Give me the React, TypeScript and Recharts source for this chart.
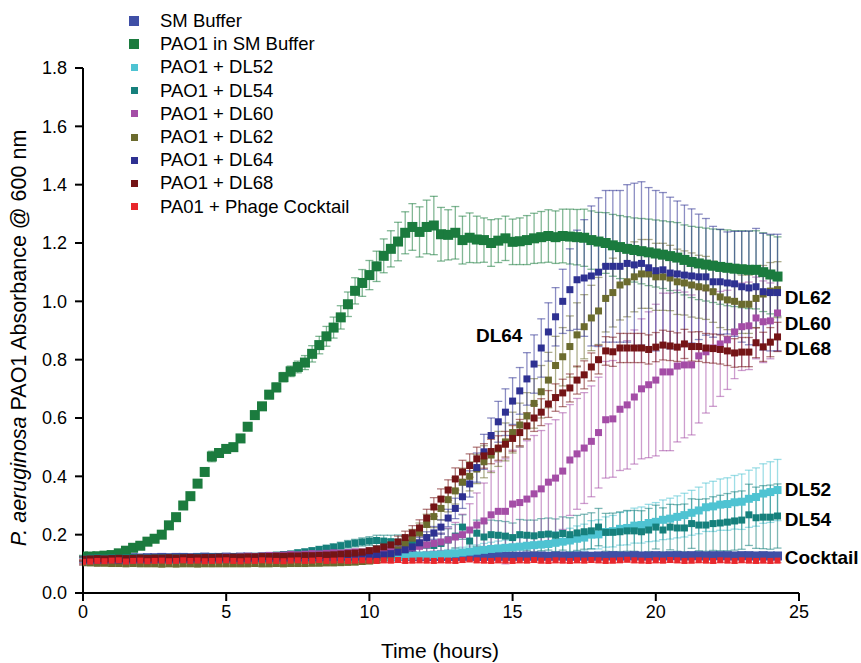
import React from 'react';
import { ScatterChart, Scatter, XAxis, YAxis, ErrorBar, ReferenceDot } from 'recharts';

const FONT = '"Liberation Sans", Arial, Helvetica, sans-serif';

// sampling times (hours), every 15 min
const TIME_H = [
  0, 0.25, 0.5, 0.75, 1, 1.25, 1.5, 1.75, 2, 2.25,
  2.5, 2.75, 3, 3.25, 3.5, 3.75, 4, 4.25, 4.5, 4.75,
  5, 5.25, 5.5, 5.75, 6, 6.25, 6.5, 6.75, 7, 7.25,
  7.5, 7.75, 8, 8.25, 8.5, 8.75, 9, 9.25, 9.5, 9.75,
  10, 10.25, 10.5, 10.75, 11, 11.25, 11.5, 11.75, 12, 12.25,
  12.5, 12.75, 13, 13.25, 13.5, 13.75, 14, 14.25, 14.5, 14.75,
  15, 15.25, 15.5, 15.75, 16, 16.25, 16.5, 16.75, 17, 17.25,
  17.5, 17.75, 18, 18.25, 18.5, 18.75, 19, 19.25, 19.5, 19.75,
  20, 20.25, 20.5, 20.75, 21, 21.25, 21.5, 21.75, 22, 22.25,
  22.5, 22.75, 23, 23.25, 23.5, 23.75, 24, 24.25,
];

const X_TICKS = [0, 5, 10, 15, 20, 25];
const Y_TICKS = [0, 0.2, 0.4, 0.6, 0.8, 1.0, 1.2, 1.4, 1.6, 1.8];

const SM_BUFFER = [
  .118, .119, .12, .12, .121, .12, .121, .121, .12, .121,
  .121, .122, .121, .122, .122, .121, .122, .123, .122, .122,
  .123, .122, .123, .123, .122, .123, .124, .123, .123, .124,
  .123, .124, .124, .123, .124, .124, .125, .124, .124, .125,
  .124, .125, .125, .124, .125, .125, .126, .125, .125, .126,
  .125, .126, .125, .126, .126, .125, .126, .126, .127, .126,
  .126, .126, .127, .126, .127, .126, .127, .127, .126, .127,
  .127, .126, .127, .127, .128, .127, .127, .128, .127, .127,
  .128, .127, .128, .128, .127, .128, .128, .127, .128, .128,
  .128, .127, .128, .128, .127, .128, .127, .127,
];
const SM_BUFFER_ERR = [
  .008, .007, .008, .008, .009, .008, .007, .008, .008, .009,
  .008, .008, .007, .008, .009, .008, .008, .008, .007, .008,
  .008, .009, .008, .008, .008, .007, .008, .009, .008, .008,
  .008, .008, .009, .008, .007, .008, .008, .008, .009, .008,
  .008, .007, .008, .008, .009, .008, .008, .008, .007, .008,
  .009, .008, .008, .008, .007, .008, .009, .008, .008, .008,
  .008, .009, .008, .007, .008, .008, .008, .009, .008, .008,
  .007, .008, .008, .009, .008, .008, .008, .007, .008, .009,
  .008, .008, .008, .007, .008, .009, .008, .008, .008, .008,
  .009, .008, .007, .008, .008, .008, .009, .008,
];

const PAO1 = [
  .125, .125, .126, .128, .13, .136, .145, .155, .162, .176,
  .186, .2, .232, .26, .3, .332, .375, .415, .468, .48,
  .494, .5, .53, .57, .61, .64, .68, .705, .74, .76,
  .775, .79, .82, .85, .88, .91, .945, .99, 1.036, 1.063,
  1.09, 1.12, 1.156, 1.18, 1.205, 1.235, 1.255, 1.238, 1.255, 1.26,
  1.23, 1.228, 1.235, 1.21, 1.218, 1.212, 1.21, 1.2, 1.208, 1.216,
  1.204, 1.206, 1.21, 1.216, 1.22, 1.224, 1.22, 1.224, 1.222, 1.22,
  1.218, 1.21, 1.205, 1.2, 1.192, 1.186, 1.18, 1.176, 1.172, 1.168,
  1.164, 1.16, 1.155, 1.15, 1.142, 1.135, 1.13, 1.126, 1.122, 1.118,
  1.115, 1.112, 1.11, 1.108, 1.108, 1.1, 1.092, 1.085,
];
const PAO1_ERR = [
  .004, .004, .004, .005, .005, .005, .005, .006, .006, .006,
  .006, .007, .007, .008, .008, .009, .01, .01, .018, .012,
  .01, .011, .012, .012, .013, .013, .014, .015, .016, .018,
  .02, .024, .028, .03, .034, .036, .04, .042, .045, .046,
  .05, .052, .058, .062, .066, .072, .08, .086, .092, .1,
  .092, .086, .09, .082, .085, .08, .076, .08, .075, .076,
  .078, .08, .084, .086, .088, .09, .09, .092, .094, .095,
  .098, .1, .1, .104, .106, .108, .11, .11, .112, .114,
  .115, .116, .118, .12, .12, .122, .124, .125, .126, .128,
  .13, .13, .132, .133, .134, .135, .135, .136,
];

const DL52 = [
  .108, .109, .109, .11, .11, .111, .111, .112, .112, .112,
  .113, .113, .113, .114, .114, .114, .115, .115, .115, .116,
  .116, .116, .117, .117, .117, .118, .118, .118, .119, .119,
  .119, .12, .12, .12, .121, .121, .122, .122, .122, .123,
  .123, .124, .124, .125, .125, .126, .127, .128, .129, .13,
  .132, .134, .136, .139, .142, .145, .148, .151, .153, .155,
  .157, .159, .162, .164, .166, .168, .172, .176, .18, .186,
  .19, .2, .201, .209, .212, .22, .223, .231, .233, .24,
  .244, .251, .255, .261, .267, .275, .283, .294, .297, .303,
  .305, .311, .313, .323, .329, .341, .346, .353,
];
const DL52_ERR = [
  .007, .007, .008, .007, .008, .008, .007, .008, .008, .008,
  .007, .008, .008, .007, .008, .008, .008, .007, .008, .008,
  .008, .007, .008, .008, .007, .008, .008, .008, .007, .008,
  .008, .008, .007, .008, .008, .008, .007, .008, .008, .008,
  .008, .009, .009, .01, .01, .011, .011, .012, .012, .013,
  .014, .015, .016, .018, .019, .02, .022, .023, .025, .026,
  .028, .03, .031, .033, .035, .036, .038, .04, .042, .044,
  .046, .048, .05, .052, .054, .056, .058, .06, .062, .064,
  .066, .068, .07, .072, .075, .077, .08, .083, .086, .088,
  .09, .092, .095, .098, .1, .102, .104, .105,
];

const DL54 = [
  .118, .12, .121, .12, .121, .12, .121, .122, .121, .12,
  .121, .121, .122, .121, .122, .122, .123, .122, .123, .123,
  .122, .123, .124, .125, .126, .127, .128, .13, .132, .134,
  .138, .141, .145, .149, .153, .157, .162, .167, .171, .175,
  .178, .18, .178, .176, .174, .171, .169, .166, .164, .163,
  .17, .182, .195, .226, .178, .205, .192, .2, .198, .195,
  .19, .2, .198, .196, .2, .202, .198, .204, .2, .206,
  .21, .213, .226, .208, .208, .21, .213, .213, .21, .216,
  .226, .216, .226, .223, .223, .238, .233, .233, .238, .24,
  .243, .247, .25, .268, .258, .26, .26, .264,
];
const DL54_ERR = [
  .008, .008, .007, .008, .008, .009, .008, .008, .007, .008,
  .008, .008, .009, .008, .008, .007, .008, .008, .008, .009,
  .008, .008, .008, .007, .008, .008, .009, .008, .008, .008,
  .009, .01, .01, .011, .011, .012, .012, .013, .013, .014,
  .015, .018, .02, .022, .025, .025, .028, .03, .03, .032,
  .035, .038, .04, .042, .045, .045, .048, .05, .05, .05,
  .05, .052, .052, .054, .055, .055, .056, .057, .058, .06,
  .06, .062, .064, .065, .066, .068, .07, .07, .072, .074,
  .075, .076, .078, .08, .082, .085, .088, .09, .092, .095,
  .098, .1, .1, .105, .105, .108, .11, .11,
];

const DL60 = [
  .104, .105, .104, .106, .107, .108, .108, .109, .11, .111,
  .112, .114, .113, .115, .117, .116, .118, .12, .119, .121,
  .123, .122, .124, .126, .125, .127, .129, .128, .13, .132,
  .131, .133, .135, .134, .136, .138, .137, .139, .141, .14,
  .142, .144, .146, .148, .15, .153, .156, .16, .165, .17,
  .175, .182, .192, .2, .216, .233, .247, .268, .28, .28,
  .305, .31, .322, .34, .357, .38, .394, .418, .456, .477,
  .497, .52, .55, .594, .597, .63, .645, .672, .7, .714,
  .73, .758, .758, .778, .782, .782, .813, .827, .84, .854,
  .868, .895, .913, .916, .943, .93, .933, .96,
];
const DL60_ERR = [
  .008, .008, .007, .008, .008, .008, .009, .008, .008, .007,
  .008, .008, .008, .009, .008, .008, .007, .008, .008, .008,
  .009, .008, .008, .007, .008, .008, .008, .009, .008, .008,
  .007, .008, .008, .008, .009, .008, .008, .007, .008, .009,
  .01, .011, .012, .014, .016, .018, .02, .022, .024, .027,
  .03, .04, .05, .07, .09, .11, .13, .15, .17, .18,
  .185, .19, .2, .2, .2, .2, .2, .2, .19, .19,
  .19, .19, .19, .2, .2, .21, .22, .23, .24, .25,
  .26, .27, .27, .26, .25, .24, .23, .21, .2, .18,
  .17, .16, .15, .15, .14, .14, .13, .13,
];

const DL62 = [
  .104, .103, .102, .102, .101, .101, .1, .101, .1, .1,
  .1, .099, .1, .099, .1, .1, .099, .1, .1, .1,
  .1, .1, .1, .1, .101, .1, .1, .101, .1, .101,
  .101, .101, .102, .102, .103, .103, .104, .105, .106, .108,
  .11, .114, .12, .13, .148, .168, .188, .208, .235, .262,
  .29, .32, .35, .38, .4, .425, .45, .473, .494, .518,
  .55, .576, .607, .65, .69, .73, .78, .81, .845, .885,
  .913, .943, .967, 1.01, 1.03, 1.056, 1.067, 1.084, 1.094, 1.094,
  1.084, 1.084, 1.08, 1.067, 1.063, 1.056, 1.05, 1.046, 1.033, 1.015,
  1.005, 1.0, .99, .99, 1.01, 1.025, 1.035, 1.04,
];
const DL62_ERR = [
  .008, .007, .008, .008, .009, .008, .008, .007, .008, .008,
  .008, .009, .008, .008, .007, .008, .008, .008, .009, .008,
  .008, .007, .008, .008, .008, .009, .008, .008, .007, .008,
  .008, .008, .009, .008, .008, .007, .008, .008, .009, .009,
  .01, .012, .015, .018, .02, .025, .03, .032, .035, .038,
  .04, .042, .045, .048, .05, .05, .055, .06, .06, .065,
  .07, .075, .08, .085, .09, .095, .1, .1, .105, .11,
  .11, .112, .115, .115, .118, .12, .12, .12, .118, .118,
  .115, .115, .112, .112, .11, .11, .108, .108, .105, .105,
  .102, .102, .1, .1, .1, .098, .098, .096,
];

const DL64 = [
  .112, .113, .112, .113, .114, .113, .114, .114, .115, .114,
  .115, .115, .116, .115, .116, .116, .117, .116, .117, .117,
  .117, .118, .118, .118, .119, .119, .119, .12, .12, .12,
  .12, .121, .121, .121, .122, .122, .122, .123, .123, .124,
  .126, .128, .131, .135, .14, .148, .158, .172, .19, .206,
  .226, .257, .29, .33, .374, .43, .484, .54, .587, .62,
  .658, .693, .734, .785, .84, .895, .947, 1.0, 1.04, 1.074,
  1.08, 1.087, 1.1, 1.12, 1.12, 1.12, 1.13, 1.125, 1.13, 1.115,
  1.105, 1.108, 1.097, 1.094, 1.09, 1.087, 1.084, 1.084, 1.067, 1.067,
  1.063, 1.06, 1.05, 1.046, 1.05, 1.033, 1.03, 1.03,
];
const DL64_ERR = [
  .008, .008, .009, .008, .007, .008, .008, .008, .009, .008,
  .008, .007, .008, .008, .008, .009, .008, .008, .007, .008,
  .008, .008, .009, .008, .008, .007, .008, .008, .008, .009,
  .008, .008, .007, .008, .008, .008, .009, .008, .008, .008,
  .008, .009, .01, .01, .011, .012, .015, .018, .02, .022,
  .025, .03, .035, .04, .045, .05, .06, .06, .07, .08,
  .08, .08, .09, .1, .1, .1, .1, .11, .14, .17,
  .2, .24, .255, .26, .26, .26, .27, .28, .28, .275,
  .275, .265, .26, .25, .24, .23, .215, .2, .19, .18,
  .175, .18, .19, .195, .2, .2, .2, .2,
];

const DL68 = [
  .116, .117, .118, .117, .118, .119, .118, .119, .12, .119,
  .12, .12, .121, .12, .121, .122, .121, .122, .122, .123,
  .122, .123, .123, .124, .124, .125, .125, .126, .126, .127,
  .127, .128, .128, .129, .13, .131, .133, .135, .137, .14,
  .145, .15, .158, .165, .175, .19, .206, .223, .257, .295,
  .322, .353, .391, .415, .437, .46, .47, .485, .497, .51,
  .53, .55, .573, .6, .62, .648, .67, .686, .703, .73,
  .748, .775, .8, .83, .827, .84, .84, .84, .84, .835,
  .843, .85, .847, .843, .854, .845, .845, .84, .838, .835,
  .83, .823, .826, .826, .858, .844, .86, .878,
];
const DL68_ERR = [
  .008, .008, .007, .008, .008, .009, .008, .008, .008, .007,
  .008, .008, .009, .008, .008, .008, .007, .008, .008, .009,
  .008, .008, .008, .007, .008, .008, .009, .008, .008, .008,
  .007, .008, .008, .009, .008, .008, .008, .009, .009, .01,
  .01, .012, .015, .018, .02, .022, .025, .028, .03, .032,
  .035, .035, .038, .04, .04, .04, .042, .042, .042, .044,
  .044, .045, .045, .046, .046, .046, .047, .047, .048, .048,
  .048, .048, .049, .049, .05, .05, .05, .05, .05, .05,
  .05, .051, .05, .049, .05, .05, .051, .05, .05, .05,
  .05, .049, .05, .05, .051, .05, .05, .05,
];

const COCKTAIL = [
  .107, .108, .11, .109, .111, .112, .108, .11, .111, .109,
  .11, .111, .109, .11, .112, .11, .111, .109, .11, .111,
  .112, .11, .109, .111, .11, .112, .111, .11, .109, .111,
  .112, .11, .111, .113, .11, .111, .112, .11, .111, .112,
  .111, .11, .112, .111, .113, .11, .111, .112, .111, .11,
  .112, .111, .11, .113, .115, .112, .111, .11, .112, .111,
  .11, .112, .111, .113, .111, .11, .112, .111, .11, .112,
  .111, .113, .112, .11, .111, .112, .114, .112, .111, .11,
  .112, .111, .113, .112, .11, .111, .112, .111, .11, .112,
  .111, .11, .112, .111, .11, .111, .11, .111,
];
const COCKTAIL_ERR = [
  .007, .008, .007, .007, .008, .007, .008, .007, .007, .008,
  .007, .007, .008, .007, .008, .007, .007, .008, .007, .007,
  .008, .007, .007, .008, .007, .008, .007, .007, .008, .007,
  .007, .008, .007, .007, .008, .007, .008, .007, .007, .008,
  .007, .007, .008, .007, .008, .007, .007, .008, .007, .007,
  .008, .007, .007, .008, .007, .008, .007, .007, .008, .007,
  .007, .008, .007, .007, .008, .007, .008, .007, .007, .008,
  .007, .007, .008, .007, .008, .007, .007, .008, .007, .007,
  .008, .007, .007, .008, .007, .008, .007, .007, .008, .007,
  .007, .008, .007, .007, .008, .007, .008, .007,
];

const SERIES = [
  { name: 'SM Buffer', values: SM_BUFFER, err: SM_BUFFER_ERR, color: '#3F4FA6', size: 9, legendSize: 10 },
  { name: 'PAO1 in SM Buffer', values: PAO1, err: PAO1_ERR, color: '#1B7B3E', size: 10, legendSize: 10 },
  { name: 'PAO1 + DL52', values: DL52, err: DL52_ERR, color: '#4EC3D2', size: 8, legendSize: 7 },
  { name: 'PAO1 + DL54', values: DL54, err: DL54_ERR, color: '#16807C', size: 7, legendSize: 7 },
  { name: 'PAO1 + DL60', values: DL60, err: DL60_ERR, color: '#A44DA6', size: 7, legendSize: 7 },
  { name: 'PAO1 + DL62', values: DL62, err: DL62_ERR, color: '#6B6B2E', size: 7, legendSize: 7 },
  { name: 'PAO1 + DL64', values: DL64, err: DL64_ERR, color: '#2E3192', size: 7, legendSize: 7 },
  { name: 'PAO1 + DL68', values: DL68, err: DL68_ERR, color: '#741416', size: 7, legendSize: 7 },
  { name: 'PA01 + Phage Cocktail', values: COCKTAIL, err: COCKTAIL_ERR, color: '#E8262B', size: 6, legendSize: 7 },
];

// end-of-curve annotations (data coordinates)
const NOTES = [
  { text: 'DL64', t: 13.72, v: 0.885 },
  { text: 'DL62', t: 24.5, v: 1.015 },
  { text: 'DL60', t: 24.5, v: 0.926 },
  { text: 'DL68', t: 24.5, v: 0.84 },
  { text: 'DL52', t: 24.5, v: 0.357 },
  { text: 'DL54', t: 24.5, v: 0.254 },
  { text: 'Cocktail', t: 24.5, v: 0.123 },
];

const squareShape = (size: number, color: string) => (props: any) => {
  const { cx, cy } = props;
  if (cx == null || cy == null) return null;
  return <rect x={cx - size / 2} y={cy - size / 2} width={size} height={size} fill={color} />;
};

const Legend = () => (
  <div style={{ position: 'absolute', left: 0, top: 0, fontFamily: FONT, fontSize: 18.5, color: '#000' }}>
    {SERIES.map((s, i) => {
      const cy = 21 + i * 23.2;
      return (
        <div key={s.name}>
          <div
            style={{
              position: 'absolute',
              left: 134 - s.legendSize / 2,
              top: cy - s.legendSize / 2,
              width: s.legendSize,
              height: s.legendSize,
              background: s.color,
            }}
          />
          <div style={{ position: 'absolute', left: 160, top: cy - 11, lineHeight: '22px', whiteSpace: 'nowrap' }}>
            {s.name}
          </div>
        </div>
      );
    })}
  </div>
);

const App = () => {
  const axisStyle = { stroke: '#000', strokeWidth: 2 };
  return (
    <div style={{ position: 'absolute', left: 0, top: 0, width: 861, height: 663, background: '#fff' }}>
      <ScatterChart width={861} height={663} margin={{ top: 68, right: 62, bottom: 30, left: 0 }}>
        <XAxis
          type="number"
          dataKey="t"
          domain={[0, 25]}
          ticks={X_TICKS}
          allowDataOverflow
          height={40}
          tickSize={8}
          tickMargin={4}
          axisLine={axisStyle}
          tickLine={axisStyle}
          tick={{ fill: '#000', fontSize: 18, fontFamily: FONT }}
          label={{
            content: () => (
              <text x={440} y={658} textAnchor="middle" fontSize={21} fontFamily={FONT} fill="#000">
                Time (hours)
              </text>
            ),
          }}
        />
        <YAxis
          type="number"
          dataKey="y"
          domain={[0, 1.8]}
          ticks={Y_TICKS}
          allowDataOverflow
          width={83}
          tickSize={8}
          tickMargin={8}
          tickFormatter={(v: number) => v.toFixed(1)}
          axisLine={axisStyle}
          tickLine={axisStyle}
          tick={{ fill: '#000', fontSize: 18, fontFamily: FONT }}
          label={{
            content: () => (
              <text
                transform="translate(26, 338) rotate(-90)"
                textAnchor="middle"
                fontSize={21.5}
                fontFamily={FONT}
                fill="#000"
              >
                <tspan fontStyle="italic">P. aeruginosa</tspan>
                <tspan> PAO1 Absorbance @ 600 nm</tspan>
              </text>
            ),
          }}
        />
        {SERIES.map((s) => (
          <Scatter
            key={s.name}
            name={s.name}
            data={TIME_H.map((t, i) => ({ t, y: s.values[i], err: s.err[i] }))}
            fill={s.color}
            shape={squareShape(s.size, s.color)}
            isAnimationActive={false}
          >
            <ErrorBar
              dataKey="err"
              direction="y"
              width={4}
              stroke={s.color}
              strokeOpacity={0.55}
              strokeWidth={1.3}
              isAnimationActive={false}
            />
          </Scatter>
        ))}
        {NOTES.map((n) => (
          <ReferenceDot
            key={n.text}
            x={n.t}
            y={n.v}
            r={0}
            fill="none"
            stroke="none"
            label={{
              value: n.text,
              position: 'right',
              offset: 0,
              fill: '#000',
              fontSize: 19,
              fontWeight: 'bold',
              fontFamily: FONT,
            }}
          />
        ))}
      </ScatterChart>
      <Legend />
    </div>
  );
};

export default App;
